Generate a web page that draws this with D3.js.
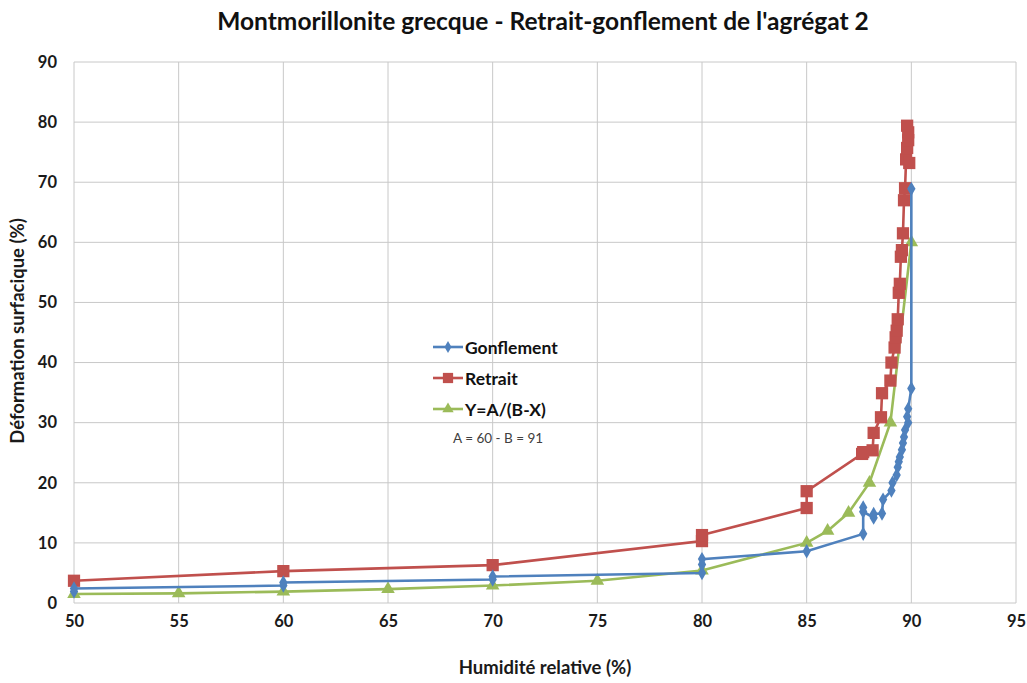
<!DOCTYPE html>
<html>
<head>
<meta charset="utf-8">
<script src="https://d3js.org/d3.v7.min.js"></script>
<style>
  body { margin: 0; background: #fff; }
  svg { font-family: Lato, "Open Sans", sans-serif; }
</style>
</head>
<body>
<div id="chart"></div>
<script>
// Gonflement (blue), in drawing order
const gonflementX = [50, 50, 60, 60, 70, 70, 80, 80, 80, 85, 87.7, 87.7, 87.7, 88.2, 88.2, 88.6, 88.65, 89.05, 89.1, 89.3, 89.35, 89.4, 89.45, 89.55, 89.6, 89.65, 89.7, 89.85, 89.8, 89.85, 90.0, 90.0];
const gonflementY = [1.9, 2.4, 2.9, 3.4, 3.9, 4.4, 5.0, 6.4, 7.3, 8.6, 11.5, 15.9, 15.2, 14.2, 14.8, 14.9, 17.2, 18.7, 20.0, 21.3, 22.6, 23.5, 24.3, 25.5, 26.6, 27.6, 28.8, 30.0, 31.0, 32.3, 35.7, 68.9];

// Retrait (red)
const retraitX = [50, 60, 70, 80, 80, 85, 85, 87.65, 87.7, 88.15, 88.2, 88.55, 88.6, 89.0, 89.05, 89.2, 89.25, 89.3, 89.35, 89.4, 89.45, 89.5, 89.55, 89.6, 89.65, 89.7, 89.75, 89.9, 89.8, 89.85, 89.85, 89.8];
const retraitY = [3.7, 5.3, 6.3, 10.3, 11.3, 15.8, 18.6, 24.8, 25.1, 25.4, 28.3, 30.9, 34.9, 37.0, 40.0, 42.5, 44.2, 45.3, 47.2, 51.6, 53.1, 57.6, 58.7, 61.5, 67.0, 69.0, 73.8, 73.2, 75.7, 77.0, 78.3, 79.4];

// Y=A/(B-X), A = 60, B = 91
const modeleX = [50, 55, 60, 65, 70, 75, 80, 85, 86, 87, 88, 89, 90];
const modeleY = [1.5, 1.6, 1.9, 2.3, 2.9, 3.7, 5.4, 10.0, 12.0, 15.0, 20.0, 30.0, 60.0];

const xTicks = [50, 55, 60, 65, 70, 75, 80, 85, 90, 95];
const yTicks = [0, 10, 20, 30, 40, 50, 60, 70, 80, 90];

const width = 1027, height = 683;
const margin = {top: 62, right: 11, bottom: 80, left: 74};

const svg = d3.select("#chart").append("svg")
    .attr("width", width)
    .attr("height", height);

const x = d3.scaleLinear().domain([50, 95]).range([margin.left, width - margin.right]);
const y = d3.scaleLinear().domain([0, 90]).range([height - margin.bottom, margin.top]);

// grid
svg.append("g").selectAll("line.v")
    .data(xTicks).enter().append("line")
    .attr("x1", d => x(d)).attr("x2", d => x(d))
    .attr("y1", y(0)).attr("y2", y(90))
    .attr("stroke", "#c8c8c8").attr("stroke-width", 1);
svg.append("g").selectAll("line.h")
    .data(yTicks).enter().append("line")
    .attr("x1", x(50)).attr("x2", x(95))
    .attr("y1", d => y(d)).attr("y2", d => y(d))
    .attr("stroke", "#c8c8c8").attr("stroke-width", 1);

// axes (labels only, Excel style)
const xAxis = svg.append("g")
    .attr("transform", `translate(0,${y(0)})`)
    .call(d3.axisBottom(x).tickValues(xTicks).tickSize(0).tickPadding(12));
const yAxis = svg.append("g")
    .attr("transform", `translate(${x(50)},0)`)
    .call(d3.axisLeft(y).tickValues(yTicks).tickSize(0).tickPadding(17));
[xAxis, yAxis].forEach(a => {
    a.select(".domain").remove();
    a.selectAll("text")
        .attr("font-family", "Lato, sans-serif")
        .attr("font-size", "16.5px")
        .attr("font-weight", "bold")
        .attr("fill", "#1a1a1a");
});

// titles
svg.append("text")
    .attr("x", 543).attr("y", 30)
    .attr("text-anchor", "middle")
    .attr("font-size", "24.5px").attr("font-weight", "bold")
    .attr("fill", "#111")
    .text("Montmorillonite grecque - Retrait-gonflement de l'agrégat 2");
svg.append("text")
    .attr("x", 545).attr("y", 674)
    .attr("text-anchor", "middle")
    .attr("font-size", "18.5px").attr("font-weight", "bold")
    .attr("fill", "#1a1a1a")
    .text("Humidité relative (%)");
svg.append("text")
    .attr("transform", "translate(24,331) rotate(-90)")
    .attr("text-anchor", "middle")
    .attr("font-size", "18.5px").attr("font-weight", "bold")
    .attr("fill", "#1a1a1a")
    .text("Déformation surfacique (%)");

const series = [
    {name: "Gonflement", xs: gonflementX, ys: gonflementY, color: "#4F81BD", shape: d3.symbolDiamond, size: 60},
    {name: "Retrait", xs: retraitX, ys: retraitY, color: "#C0504D", shape: d3.symbolSquare, size: 150},
    {name: "Y=A/(B-X)", xs: modeleX, ys: modeleY, color: "#9BBB59", shape: d3.symbolTriangle, size: 80}
];

const line = d3.line().x(d => x(d[0])).y(d => y(d[1]));

// draw order: model first, then retrait, then gonflement on top
[series[2], series[1], series[0]].forEach(s => {
    const pts = s.xs.map((v, i) => [v, s.ys[i]]);
    svg.append("path")
        .datum(pts)
        .attr("d", line)
        .attr("fill", "none")
        .attr("stroke", s.color)
        .attr("stroke-width", 2.6);
    svg.append("g").selectAll("path")
        .data(pts).enter().append("path")
        .attr("d", d3.symbol().type(s.shape).size(s.size))
        .attr("transform", d => `translate(${x(d[0])},${y(d[1])})`)
        .attr("fill", s.color);
});

// legend
const legend = svg.append("g").attr("transform", "translate(433,347)");
series.forEach((s, i) => {
    const g = legend.append("g").attr("transform", `translate(0,${i * 31})`);
    g.append("line")
        .attr("x1", 0).attr("x2", 30)
        .attr("stroke", s.color).attr("stroke-width", 2.6);
    g.append("path")
        .attr("d", d3.symbol().type(s.shape).size(s.size * 0.7))
        .attr("transform", "translate(15,0)")
        .attr("fill", s.color);
    g.append("text")
        .attr("x", 32).attr("y", 6.5)
        .attr("font-size", "17.5px").attr("font-weight", "bold")
        .attr("fill", "#111")
        .text(s.name);
});
svg.append("text")
    .attr("x", 453).attr("y", 443)
    .attr("font-size", "13.5px")
    .attr("fill", "#404040")
    .text("A = 60 - B = 91");
</script>
</body>
</html>
